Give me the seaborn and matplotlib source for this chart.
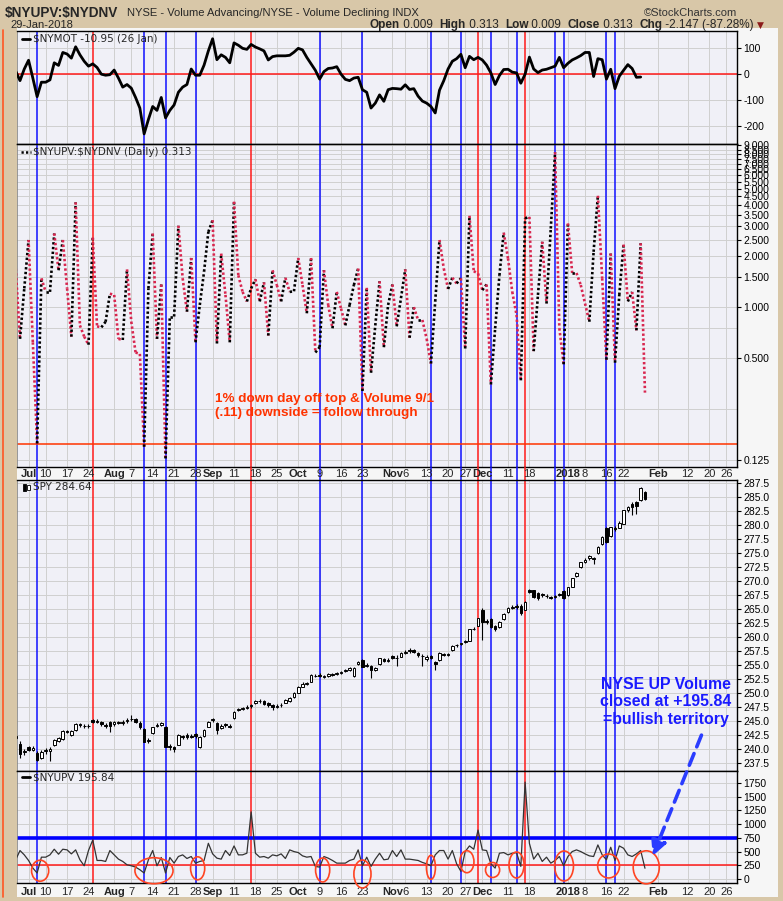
import numpy as np
import pandas as pd
import seaborn as sns
import matplotlib.pyplot as plt
from matplotlib.patches import Rectangle, Ellipse
from matplotlib.lines import Line2D

sns.set_style('white')
plt.rcParams['font.family'] = ['Liberation Sans', 'DejaVu Sans']

# ---- data (one value per trading day, 28-Jun-2017 .. 29-Jan-2018) ----
holidays = ['2017-07-04', '2017-09-04', '2017-11-23', '2017-12-25',
            '2018-01-01', '2018-01-15', '2018-02-19']

nymot = [12, -25, 20, 54, -15, -87, -31, -31, -22, 44, 34, 84, 78, 62, 106, 75, 50, 31, 40, 26,
         0, -4, -2, 16, -15, -50, -40, -54, -90, -131, -231, -175, -125, -140, -90, -169, -140, -119, -70, -50,
         -40, 20, -4, -4, 35, 90, 137, 56, 75, 65, 44, 121, 112, 100, 96, 115, 105, 98, 90, 55,
         68, 71, 71, 71, 73, 85, 100, 94, 65, 40, 15, -19, 10, 22, 24, 29, 0, -20, -25, -15,
         -12, -60, -70, -131, -112, -80, -105, -60, -55, -56, -58, -41, -59, -56, -85, -104, -112, -125, -150, -62,
         -25, 20, 50, 60, 77, 25, 69, 56, 65, 55, 35, 5, -40, -5, 18, 19, 8, 5, -35, 0,
         66, 20, 6, 16, 19, 25, 31, 65, 25, 42, 55, 63, 72, 84, 84, -9, 60, 56, -19, 19,
         -56, -8, 15, 37, 22, -12, -11, np.nan]

ratio = [1.69, 0.65, 1.29, 2.49, 0.62, 0.157, 1.48, 1.23, 1.23, 2.72, 1.65, 2.49, 1.29, 0.67, 4.15, 0.78, 0.67, 0.60, 2.57, 0.77,
         0.76, 0.82, 1.20, 1.18, 0.65, 0.64, 1.67, 0.82, 0.54, 0.53, 0.150, 1.29, 2.72, 0.65, 1.36, 0.128, 0.88, 0.88, 3.02, 1.48,
         0.94, 1.95, 0.62, 1.03, 1.62, 2.78, 3.26, 0.61, 2.07, 1.18, 0.62, 4.19, 1.54, 1.23, 1.08, 1.29, 1.46, 1.08, 1.40, 0.68,
         1.65, 1.35, 1.08, 1.49, 1.23, 1.24, 1.95, 1.35, 0.92, 1.95, 0.54, 0.58, 1.65, 1.03, 0.75, 1.23, 0.98, 0.78, 1.03, 1.35,
         1.69, 0.32, 1.30, 0.41, 0.78, 1.42, 0.58, 1.03, 1.36, 0.77, 1.13, 1.67, 0.66, 1.00, 0.84, 0.84, 0.65, 0.465, 1.08, 2.49,
         1.69, 1.28, 1.49, 1.38, 1.48, 0.57, 3.46, 1.63, 1.58, 1.26, 1.36, 0.35, 0.75, 1.54, 2.75, 1.94, 1.23, 0.90, 0.37, 3.34,
         3.41, 0.55, 1.18, 2.43, 1.05, 2.91, 8.2, 0.75, 0.46, 3.12, 1.59, 1.59, 1.35, 1.05, 0.82, 2.12, 4.54, 1.48, 0.49, 2.07,
         0.47, 1.18, 2.34, 1.08, 1.23, 0.73, 2.38, 0.313]

nyupv = [350, 519, 440, 338, 200, 109, 398, 398, 440, 543, 452, 543, 531, 458, 531, 350, 241, 519, 712, 338,
         338, 320, 519, 440, 362, 320, 259, 241, 217, 169, 109, 350, 519, 241, 392, 109, 392, 289, 410, 440,
         374, 410, 289, 320, 338, 651, 458, 380, 362, 519, 428, 603, 440, 440, 470, 1224, 470, 398, 410, 380,
         440, 422, 458, 374, 531, 500, 482, 422, 398, 410, 229, 217, 410, 380, 338, 289, 289, 289, 338, 362,
         531, 241, 398, 229, 362, 470, 350, 362, 519, 410, 531, 362, 362, 350, 338, 302, 277, 241, 440, 519,
         519, 362, 519, 277, 139, 500, 603, 543, 892, 531, 519, 277, 199, 470, 482, 440, 470, 480, 230, 1767,
         651, 362, 470, 320, 398, 289, 338, 410, 241, 410, 500, 531, 500, 458, 422, 410, 621, 440, 350, 579,
         338, 603, 561, 440, 410, 458, 519, 196]

spy_open = [242.0, 241.0, 239.4, 240.3, 239.9, 239.3, 238.5, 239.6, 239.6, 240.7, 241.5, 241.8, 243.3, 242.5, 243.4, 244.4, 244.2, 244.1, 245.2, 245.1,
            244.9, 244.3, 244.8, 244.4, 244.9, 244.6, 245.0, 245.3, 245.3, 244.7, 243.6, 241.5, 242.9, 244.2, 244.3, 244.0, 240.5, 240.3, 240.8, 242.3,
            242.5, 242.3, 242.7, 240.4, 242.3, 244.0, 245.2, 244.6, 243.8, 244.4, 244.1, 245.5, 246.9, 247.2, 247.4, 247.7, 248.2, 248.6, 248.6, 248.2,
            247.9, 247.6, 247.8, 248.3, 248.5, 249.3, 250.1, 251.1, 251.6, 252.0, 253.1, 253.3, 252.9, 253.1, 253.4, 253.4, 253.6, 253.9, 254.2, 253.0,
            255.2, 255.9, 254.9, 254.8, 254.2, 255.1, 256.0, 255.8, 256.6, 256.3, 256.5, 257.2, 257.6, 257.6, 257.2, 256.6, 256.0, 256.6, 255.5, 255.9,
            257.0, 256.9, 257.6, 258.5, 258.8, 259.1, 259.3, 261.4, 262.0, 264.9, 262.9, 263.2, 261.9, 261.7, 263.2, 264.4, 265.2, 265.6, 265.6, 264.9,
            268.4, 268.3, 267.9, 267.6, 267.3, 267.1, 267.1, 267.6, 268.2, 267.5, 269.0, 270.9, 272.4, 273.4, 274.0, 274.1, 274.9, 276.5, 279.4, 278.0,
            279.4, 279.5, 280.2, 282.7, 283.8, 284.0, 284.4, 285.9]
spy_close = [242.3, 239.2, 239.6, 239.9, 240.2, 238.0, 239.5, 239.9, 240.0, 241.6, 241.9, 243.3, 243.1, 243.2, 244.5, 244.3, 244.1, 244.2, 244.8, 244.9,
             244.5, 244.1, 244.2, 244.9, 244.7, 244.9, 245.2, 245.4, 244.9, 243.9, 241.3, 241.6, 243.9, 244.3, 244.6, 240.4, 240.3, 240.1, 242.5, 242.2,
             242.1, 242.2, 242.3, 242.1, 243.4, 244.8, 245.3, 243.4, 244.2, 244.3, 244.0, 246.7, 247.2, 247.4, 247.6, 247.9, 248.5, 248.6, 248.0, 247.8,
             247.6, 247.7, 247.9, 248.8, 249.1, 250.0, 251.0, 251.7, 251.8, 253.2, 253.0, 253.0, 253.0, 253.4, 253.2, 253.6, 253.8, 254.1, 254.4, 254.4,
             255.6, 254.7, 255.0, 254.1, 254.4, 256.2, 255.8, 255.9, 256.2, 256.2, 257.1, 257.4, 257.5, 257.4, 256.8, 256.6, 256.5, 256.2, 255.2, 257.2,
             256.8, 256.8, 258.4, 258.6, 258.9, 259.2, 261.4, 261.5, 263.3, 262.7, 262.7, 261.8, 261.5, 262.6, 264.1, 265.2, 265.4, 265.3, 264.2, 266.3,
             268.0, 267.2, 267.0, 267.5, 267.3, 267.0, 267.3, 267.5, 266.9, 268.9, 270.5, 271.4, 273.3, 273.8, 274.5, 273.9, 276.1, 277.8, 276.9, 279.6,
             279.2, 280.4, 282.6, 283.2, 283.2, 283.4, 286.5, 284.6]
spy_high = [242.6, 241.4, 240.0, 240.6, 240.5, 239.6, 239.8, 240.2, 240.4, 241.8, 242.2, 243.5, 243.5, 243.4, 244.7, 244.6, 244.5, 244.4, 245.4, 245.3,
            245.1, 244.6, 245.0, 245.1, 245.1, 245.2, 245.5, 246.1, 245.5, 245.1, 243.7, 242.0, 244.0, 244.6, 244.9, 244.1, 240.9, 240.6, 242.7, 242.6,
            242.8, 242.7, 242.9, 242.3, 243.6, 245.0, 245.6, 244.8, 244.5, 244.6, 244.4, 246.8, 247.4, 247.6, 247.8, 248.1, 248.7, 248.9, 248.8, 248.4,
            248.1, 248.0, 248.2, 249.0, 249.3, 250.2, 251.2, 251.9, 252.0, 253.4, 253.4, 253.5, 253.3, 253.6, 253.6, 253.8, 254.0, 254.3, 254.6, 254.6,
            255.8, 256.0, 255.3, 255.0, 254.7, 256.3, 256.3, 256.2, 256.8, 256.7, 257.3, 257.7, 258.0, 257.8, 257.4, 256.9, 256.7, 256.8, 255.7, 257.3,
            257.2, 257.2, 258.5, 258.8, 259.0, 259.4, 261.5, 261.8, 263.4, 265.2, 263.2, 263.4, 262.1, 262.8, 264.2, 265.3, 265.7, 265.8, 265.8, 266.4,
            268.6, 268.4, 268.1, 267.9, 267.6, 267.4, 267.5, 267.8, 268.3, 269.0, 270.6, 271.6, 273.4, 274.0, 274.7, 274.3, 276.2, 278.0, 279.6, 279.7,
            279.8, 280.6, 282.7, 283.4, 284.0, 284.3, 286.7, 286.0]
spy_low = [241.8, 238.4, 239.0, 239.6, 239.6, 237.8, 238.3, 239.2, 237.9, 240.5, 241.3, 241.7, 242.8, 242.3, 243.3, 243.9, 243.8, 243.8, 244.6, 244.6,
           244.2, 243.7, 243.1, 244.2, 244.4, 244.3, 244.7, 245.0, 244.6, 243.6, 241.2, 241.1, 242.7, 243.9, 244.1, 240.3, 239.9, 239.4, 240.7, 241.8,
           241.8, 241.9, 242.0, 240.2, 242.2, 243.9, 244.9, 242.7, 243.6, 243.9, 243.8, 245.4, 246.8, 247.0, 247.2, 247.4, 248.0, 248.3, 247.8, 247.5,
           247.0, 247.3, 247.6, 248.2, 248.4, 249.2, 250.0, 251.0, 251.4, 251.9, 252.8, 252.8, 252.7, 252.9, 253.0, 253.2, 253.4, 253.7, 254.0, 252.8,
           255.0, 254.6, 254.6, 252.6, 253.9, 255.0, 255.6, 255.5, 256.0, 254.8, 256.4, 257.0, 257.2, 257.2, 256.5, 254.8, 255.8, 256.0, 254.1, 255.8,
           256.6, 256.6, 257.5, 258.3, 258.6, 258.9, 259.2, 261.2, 261.9, 259.5, 262.4, 261.6, 261.0, 261.6, 263.0, 264.3, 265.0, 265.0, 264.0, 264.8,
           267.8, 267.0, 266.6, 267.2, 267.0, 266.8, 266.9, 267.3, 266.8, 267.4, 268.9, 270.7, 272.3, 273.2, 273.8, 273.0, 274.8, 276.4, 276.7, 277.9,
           278.9, 279.4, 280.1, 282.3, 281.8, 282.0, 284.3, 284.4]

blue_days = ['2017-07-06', '2017-08-10', '2017-08-17', '2017-08-28', '2017-10-09', '2017-10-23', '2017-11-14',
             '2017-11-24', '2017-12-05', '2017-12-13', '2017-12-27', '2017-12-29', '2018-01-16', '2018-01-18']
red_days = ['2017-07-25', '2017-09-15', '2017-11-30', '2017-12-15']

tick_days = ['2017-07-03', '2017-07-10', '2017-07-17', '2017-07-24', '2017-08-01', '2017-08-07', '2017-08-14',
             '2017-08-21', '2017-08-28', '2017-09-01', '2017-09-11', '2017-09-18', '2017-09-25', '2017-10-02',
             '2017-10-09', '2017-10-16', '2017-10-23', '2017-11-01', '2017-11-06', '2017-11-13', '2017-11-20',
             '2017-11-27', '2017-12-01', '2017-12-11', '2017-12-18', '2018-01-02', '2018-01-08', '2018-01-16',
             '2018-01-22', '2018-02-01', '2018-02-12', '2018-02-20', '2018-02-26']
tick_text = ['Jul', '10', '17', '24', 'Aug', '7', '14', '21', '28', 'Sep', '11', '18', '25', 'Oct', '9', '16', '23',
             'Nov', '6', '13', '20', '27', 'Dec', '11', '18', '2018', '8', '16', '22', 'Feb', '12', '20', '26']
month_text = ['Jul', 'Aug', 'Sep', 'Oct', 'Nov', 'Dec', '2018', 'Feb']

# circled dips in the bottom panel: day, value, width (days), height
circle_days = ['2017-07-06', '2017-08-14', '2017-08-28', '2017-10-10', '2017-10-23', '2017-11-14',
               '2017-11-27', '2017-12-05', '2017-12-13', '2017-12-29', '2018-01-16', '2018-01-29']
circle_vals = [151, 151, 195, 164, 91, 213, 315, 164, 255, 237, 237, 213]
circle_w = [4.0, 8.9, 3.3, 3.3, 4.0, 2.1, 3.3, 3.3, 3.5, 4.4, 5.1, 6.1]
circle_h = [383, 474, 419, 437, 510, 437, 401, 273, 474, 547, 437, 602]
circle_dx = [0.7, 0.3, 0.5, -0.3, 0.0, 0.0, 0.4, 0.4, 0.0, 0.1, 0.5, 0.3]

# ---- trading-day axis ----
dates = pd.bdate_range('2017-06-28', '2018-03-05', freq='C', holidays=holidays)
pos_of = {d.strftime('%Y-%m-%d'): i for i, d in enumerate(dates)}
n = len(ratio)
x = np.arange(n)
xlim = (0.3, 168.5)
tick_pos = [pos_of[d] for d in tick_days]

W, H = 783, 901
TAN = '#d8c7a8'
BG = '#f0f0f7'
BLUE = '#1010ff'
RED = '#ff1a1a'


def fx(px):
    return px / W


def fy(py):
    return 1 - py / H


fig = plt.figure(figsize=(W / 100, H / 100), dpi=100)
fig.patch.set_facecolor(TAN)
fig.patches.append(Rectangle((fx(17), fy(897)), fx(761), 869 / H, transform=fig.transFigure,
                             facecolor='#f6f6f6', edgecolor='none', zorder=-5))
fig.lines.append(Line2D([fx(2.5), fx(2.5)], [fy(30), fy(897)], transform=fig.transFigure,
                        color='#ff5522', lw=1.2))

left, width = fx(17), fx(720)
ax1 = fig.add_axes([left, fy(144), width, 113 / H])
ax2 = fig.add_axes([left, fy(467), width, 323 / H])
strip = fig.add_axes([left, fy(480), width, 13 / H])
ax3 = fig.add_axes([left, fy(771), width, 291 / H])
ax4 = fig.add_axes([left, fy(883), width, 112 / H])

for ax in (ax1, ax2, ax3, ax4):
    ax.set_facecolor(BG)
    ax.set_xlim(*xlim)
    ax.set_xticks(tick_pos)
    ax.tick_params(axis='x', length=0, labelbottom=False)
    ax.tick_params(axis='y', left=False, right=True, labelleft=False, labelright=True,
                   length=3, width=0.8, labelsize=7.5, pad=1.5, colors='black')
    ax.grid(True, color='#cfcfcf', lw=0.7)
    ax.set_axisbelow(True)
    for s in ax.spines.values():
        s.set_color('black')
        s.set_linewidth(1.0)
    ax.spines['left'].set_color('#888888')
    ax.spines['left'].set_linewidth(0.6)

strip.set_xlim(*xlim)
strip.set_ylim(0, 1)
strip.axis('off')

# event lines through every panel
for ax in (ax1, ax2, strip, ax3, ax4):
    for d in blue_days:
        ax.axvline(pos_of[d], color=BLUE, lw=1.1, zorder=1.5)
    for d in red_days:
        ax.axvline(pos_of[d], color=RED, lw=1.1, zorder=1.5)

# ---- panel 1: $NYMOT ----
sns.lineplot(x=x, y=np.array(nymot, dtype=float), ax=ax1, color='black', lw=2, zorder=3)
ax1.axhline(0, color=RED, lw=1.1, zorder=2)
ax1.set_ylim(-270, 167)
ax1.set_yticks([100, 0, -100, -200])
ax1.set_yticklabels(['100', '0', '-100', '-200'])

# ---- panel 2: ratio, dotted, black up / red down ----
r = np.array(ratio)
for k in range(n - 1):
    c = 'black' if r[k + 1] >= r[k] else '#d8264f'
    ax2.plot(x[k:k + 2], r[k:k + 2], color=c, lw=1.9, ls=(0, (0.9, 0.9)), zorder=3)
ax2.axhline(0.155, color='#ff3300', lw=1.1, zorder=2)
ax2.set_yscale('log')
ax2.set_ylim(0.114, 9.17)
ax2_ticks = [0.125, 0.5, 1.0, 1.5, 2.0, 2.5, 3.0, 3.5, 4.0, 4.5, 5.0, 5.5, 6.0, 6.5, 7.0, 7.5, 8.0, 8.5, 9.0]
ax2.set_yticks(ax2_ticks)
ax2.set_yticklabels(['%.3f' % t for t in ax2_ticks])
ax2.yaxis.set_minor_locator(plt.FixedLocator([0.25, 0.75]))
ax2.yaxis.set_minor_formatter(plt.NullFormatter())
ax2.tick_params(axis='y', which='minor', length=0)
ax2.grid(True, which='minor', axis='y', color='#cfcfcf', lw=0.7)

ax2.text(fx(215 - 17) / fx(720), (467 - 406) / 323, '1% down day off top & Volume 9/1\n(.11) downside = follow through',
         transform=ax2.transAxes, color='#ff3300', fontsize=9.7, fontweight='bold', va='center', ha='left',
         linespacing=1.15, zorder=4)

# ---- panel 3: SPY candles ----
o, c_, h, l = map(np.array, (spy_open, spy_close, spy_high, spy_low))
up = c_ >= o
ax3.vlines(x, l, h, color='black', lw=0.8, zorder=3)
ax3.bar(x[up], (c_ - o)[up], bottom=o[up], width=0.62, color='white', edgecolor='black', lw=0.7, zorder=4)
ax3.bar(x[~up], (o - c_)[~up], bottom=c_[~up], width=0.62, color='black', edgecolor='black', lw=0.7, zorder=4)
ax3.set_ylim(236.1, 288.0)
spy_ticks = np.arange(237.5, 288, 2.5)
ax3.set_yticks(spy_ticks)
ax3.set_yticklabels(['%.1f' % t for t in spy_ticks])

ax3.text(fx(666 - 17) / fx(720), (771 - 702) / 291, 'NYSE UP Volume\nclosed at +195.84\n=bullish territory',
         transform=ax3.transAxes, color='#1a1aff', fontsize=11.4, fontweight='bold', ha='center', va='center',
         linespacing=1.2, zorder=4)

# ---- panel 4: $NYUPV ----
sns.lineplot(x=x, y=np.array(nyupv, dtype=float), ax=ax4, color='#333333', lw=0.9, zorder=3)
ax4.axhline(750, color='#0000ff', lw=2.6, zorder=2)
ax4.axhline(250, color=RED, lw=1.1, zorder=2)
ax4.set_ylim(-73, 1969)
ax4.set_yticks(np.arange(0, 1751, 250))
ax4.set_yticklabels([str(v) for v in range(0, 1751, 250)])
for d, v, w, hh, dx in zip(circle_days, circle_vals, circle_w, circle_h, circle_dx):
    ax4.add_patch(Ellipse((pos_of[d] + dx, v), w, hh, fill=False, edgecolor='#ff4422', lw=1.2,
                          zorder=5, clip_on=False))

ax4.annotate('', xy=(pos_of['2018-01-29'] + 1.8, 420), xycoords=ax4.transData,
             xytext=(pos_of['2018-01-29'] + 13.2, 242.5), textcoords=ax3.transData,
             arrowprops=dict(arrowstyle='-|>,head_length=0.9,head_width=0.45', color='#2a3cff',
                             lw=2.6, ls=(0, (3.5, 2)), shrinkA=0, shrinkB=0),
             annotation_clip=False, zorder=6)

# ---- x labels: middle strip and bottom ----
for p, t in zip(tick_pos, tick_text):
    wt = 'bold' if t in month_text else 'normal'
    strip.text(p, 0.45, t, ha='center', va='center', fontsize=8, fontweight=wt, zorder=4)
ax4.tick_params(axis='x', labelbottom=True, labelsize=8, pad=3)
ax4.set_xticklabels(tick_text)
for lab in ax4.get_xticklabels():
    if lab.get_text() in month_text:
        lab.set_fontweight('bold')

# ---- legends inside panels ----
leg_kw = dict(fontsize=7.5, family=['DejaVu Sans'], va='center', ha='left', zorder=6)
ax1.text(0.022, 0.925, r'\$NYMOT -10.95 (26 Jan)', transform=ax1.transAxes, **leg_kw)
ax1.plot([0.007, 0.018], [0.925, 0.925], transform=ax1.transAxes, color='black', lw=2)
ax2.text(0.022, 0.976, r'\$NYUPV:\$NYDNV (Daily) 0.313', transform=ax2.transAxes, **leg_kw)
ax2.plot([0.006, 0.019], [0.976, 0.976], transform=ax2.transAxes, color='black', lw=1.8, ls=(0, (0.9, 0.9)))
ax3.text(0.022, 0.975, 'SPY 284.64', transform=ax3.transAxes, **leg_kw)
for k, (b, t, fc) in enumerate([(0.962, 0.985, 'black'), (0.966, 0.982, 'white')]):
    ax3.add_patch(Rectangle((0.008 + k * 0.006, b), 0.004, t - b, transform=ax3.transAxes,
                            facecolor=fc, edgecolor='black', lw=0.6, zorder=6))
ax4.text(0.022, 0.944, r'\$NYUPV 195.84', transform=ax4.transAxes, **leg_kw)
ax4.plot([0.007, 0.018], [0.944, 0.944], transform=ax4.transAxes, color='black', lw=2)

# ---- header ----
fig.text(fx(5), fy(12.5), r'\$NYUPV:\$NYDNV', fontsize=9.8, fontweight='bold', va='center')
fig.text(fx(127), fy(12.5), 'NYSE - Volume Advancing/NYSE - Volume Declining INDX', fontsize=8, va='center')
fig.text(fx(737), fy(12.5), '\u00a9StockCharts.com', fontsize=8, va='center', ha='right', color='#333333')
fig.text(fx(10), fy(25), '29-Jan-2018', fontsize=8, va='center')

renderer = fig.canvas.get_renderer()
cur = fx(370)
parts = [('Open', 'bold'), (' 0.009  ', 'normal'), ('High', 'bold'), (' 0.313  ', 'normal'),
         ('Low', 'bold'), (' 0.009  ', 'normal'), ('Close', 'bold'), (' 0.313  ', 'normal'),
         ('Chg', 'bold'), (' -2.147 (-87.28%) ', 'normal')]
for s, wt in parts:
    t = fig.text(cur, fy(25), s, fontsize=8.5, fontweight=wt, va='center')
    bb = t.get_window_extent(renderer=renderer)
    cur += bb.width / W
fig.text(cur, fy(25), '\u25bc', fontsize=6.5, va='center', color='#8b1a1a', family=['DejaVu Sans'])

fig.savefig('out.png', dpi=100, facecolor=fig.get_facecolor())
